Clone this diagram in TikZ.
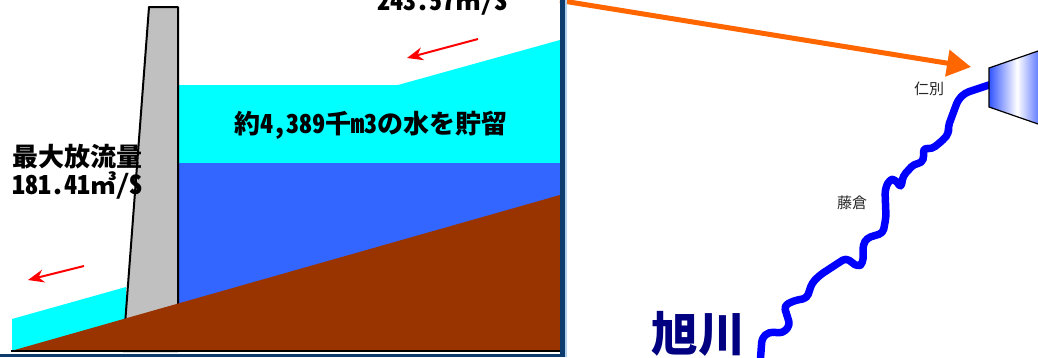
\documentclass[tikz,border=0pt]{standalone}
\usepackage{fontspec}
\newfontfamily\jpfont{Noto Sans CJK JP}
\newfontfamily\jphalf[RawFeature=+hwid]{Noto Sans CJK JP}
\usetikzlibrary{arrows.meta}
\definecolor{dmcyan}{RGB}{0,255,255}
\definecolor{dmblue}{RGB}{51,102,255}
\definecolor{dmbrown}{RGB}{153,51,0}
\definecolor{dmgray}{RGB}{192,192,192}
\definecolor{dmnavy}{RGB}{13,59,110}
\definecolor{dmpale}{RGB}{176,208,240}
\definecolor{dmorange}{RGB}{255,102,0}
\definecolor{dmred}{RGB}{255,0,0}
\definecolor{dmriver}{RGB}{0,0,255}
\definecolor{dmgate}{RGB}{51,85,255}
\definecolor{dmcity}{RGB}{0,0,128}
\tikzset{
  flowarrow/.style={draw=dmred, line width=2pt, -{Stealth[length=16pt,width=13pt]}},
  bigtext/.style={font=\jphalf\bfseries\fontsize{26}{28}\selectfont, inner sep=0pt},
  placename/.style={font=\jpfont\fontsize{15}{17}\selectfont, text=black!85, inner sep=0pt},
}
\begin{document}
\begin{tikzpicture}[x=1pt,y=-1pt]
\useasboundingbox (0,0) rectangle (1038,357);
\clip (0,0) rectangle (1038,357);
% Downstream water
\fill[dmcyan] (12,319) -- (126,287) -- (126,351) -- (12,351) -- cycle;
% Reservoir: surface layer and deep water
\fill[dmcyan] (178,85) -- (398,85) -- (560,40) -- (560,163) -- (178,163) -- cycle;
\fill[dmblue] (178,163) rectangle (560,351);
% Dam body
\draw[fill=dmgray, line width=2pt, line join=round] (149,7) -- (178,7) -- (178,351) -- (123,351) -- cycle;
% Ground
\fill[dmbrown] (11,351) -- (560,195) -- (560,351) -- cycle;
\draw[line width=1.5pt] (11,351) -- (560,351);
% Flow arrows
\coordinate (inflowtail) at (478,39);
\coordinate (inflowhead) at (407,58);
\draw[flowarrow] (inflowtail) -- (inflowhead);
\coordinate (outflowtail) at (84,266);
\coordinate (outflowhead) at (28,280);
\draw[flowarrow] (outflowtail) -- (outflowhead);
% Labels
\node[bigtext, anchor=base west] (inflowval) at (377,10) {243.57㎥/S};
\node[bigtext] (storage) at (371,125) {約4,389千m3の水を貯留};
\node[bigtext, anchor=base west] (maxlabel) at (12,166) {最大放流量};
\node[bigtext, anchor=base west] (maxvalue) at (12,194) {181.41㎥/S};
% Pointer to the dam site on the map
\coordinate (mapfrom) at (560,0.5);
\coordinate (mapto) at (971,67);
\draw[dmorange, line width=5pt, -{Triangle[length=24pt,width=26pt]}] (mapfrom) -- (mapto);
% Panel frame
\fill[dmnavy] (560,0) rectangle (565,357);
\fill[dmpale] (565,0) rectangle (567,357);
\fill[dmnavy] (0,354) rectangle (565,357);
% River
\draw[dmriver, line width=7.5pt, line cap=round, line join=round, rounded corners=4pt]
  (989,85) -- (965,93) -- (958,100) -- (948,127) -- (949,133) -- (943,140) -- (932,149)
  -- (923,148) -- (924,156) -- (922,163) -- (914,164) -- (903,176) -- (901,188)
  -- (895,179) -- (889,180) -- (885,190) -- (886,217) -- (883,233) -- (867,238)
  -- (863,245) -- (863,263) -- (858,267) -- (846,258) -- (820,275) -- (812,283)
  -- (807,298) -- (793,301) -- (784,306) -- (790,325) -- (783,333) -- (769,332)
  -- (762,338) -- (760,365);
% Dam gate on the map
\draw[line width=1.2pt, left color=dmgate, right color=dmgate, middle color=white]
  (989,68) -- (1045,48.6) -- (1045,126.4) -- (989,107) -- cycle;
% Place names
\node[placename] (nibetsu) at (929,89) {仁別};
\node[placename] (fujikura) at (852,203) {藤倉};
\node[font=\jpfont\bfseries\fontsize{47}{50}\selectfont, text=dmcity, inner sep=0pt] (asahikawa) at (698,334) {旭川};
\end{tikzpicture}
\end{document}
